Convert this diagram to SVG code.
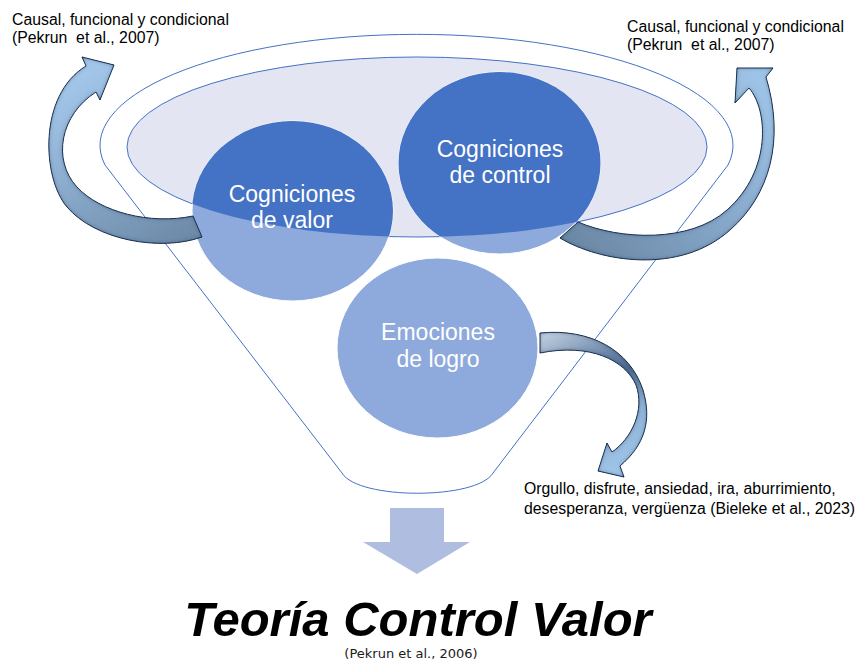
<svg xmlns="http://www.w3.org/2000/svg" width="857" height="660" viewBox="0 0 857 660">
  <style>
    .outline { fill: none; stroke: #4472C4; stroke-width: 1; }
    .node-text { font-family: "Liberation Sans", Arial, sans-serif; font-size: 23px; fill: #FFFFFF; text-anchor: middle; }
    .note { font-family: "Liberation Sans", Arial, sans-serif; font-size: 15.8px; fill: #000000; }
    .title { font-family: "Liberation Sans", Arial, sans-serif; font-size: 49px; font-weight: bold; font-style: italic; fill: #000000; text-anchor: middle; }
    .cite { font-family: "DejaVu Sans", "Liberation Sans", sans-serif; font-size: 13px; fill: #1A1A1A; text-anchor: middle; }
    .curved { stroke: #1F3556; stroke-width: 1; stroke-linejoin: miter; filter: url(#rim); }
  </style>
  <defs>
    <clipPath id="top-ellipse">
      <ellipse cx="417" cy="147" rx="290" ry="90"/>
    </clipPath>
    <filter id="rim" x="-10%" y="-10%" width="120%" height="120%">
      <feGaussianBlur in="SourceAlpha" stdDeviation="2" result="blur"/>
      <feComposite in="SourceAlpha" in2="blur" operator="arithmetic" k2="1" k3="-1" result="edge"/>
      <feFlood flood-color="#1F3150" flood-opacity="0.85"/>
      <feComposite in2="edge" operator="in" result="shade"/>
      <feMerge>
        <feMergeNode in="SourceGraphic"/>
        <feMergeNode in="shade"/>
      </feMerge>
    </filter>
    <linearGradient id="grad-left" gradientUnits="userSpaceOnUse" x1="200" y1="237" x2="90" y2="70">
      <stop offset="0" stop-color="#6C89A6"/>
      <stop offset="0.45" stop-color="#83A3C4"/>
      <stop offset="1" stop-color="#A2C6EA"/>
    </linearGradient>
    <linearGradient id="grad-right" gradientUnits="userSpaceOnUse" x1="565" y1="238" x2="760" y2="80">
      <stop offset="0" stop-color="#6B88A4"/>
      <stop offset="0.5" stop-color="#84A5C7"/>
      <stop offset="1" stop-color="#9DC3E6"/>
    </linearGradient>
    <linearGradient id="grad-bottom" gradientUnits="userSpaceOnUse" x1="540" y1="340" x2="610" y2="470">
      <stop offset="0" stop-color="#B9C9DB"/>
      <stop offset="0.3" stop-color="#6A86A8"/>
      <stop offset="0.45" stop-color="#4C6A8E"/>
      <stop offset="0.7" stop-color="#8DB0D4"/>
      <stop offset="1" stop-color="#9DC3E6"/>
    </linearGradient>
  </defs>

  <!-- funnel body -->
  <g id="funnel">
    <path class="outline" d="M 105,165 A 316.5 111 0 1 1 728,165 L 493,473 C 477,500 358,500 342,473 Z"/>
    <ellipse cx="417" cy="147" rx="290" ry="90" fill="#E3E6F2" stroke="#4472C4" stroke-width="1"/>
  </g>

  <!-- value cognitions -->
  <g id="node-valor">
    <ellipse cx="292.5" cy="211" rx="100.5" ry="90" fill="#8EA9DB" stroke="#FFFFFF" stroke-width="1"/>
    <ellipse cx="292.5" cy="211" rx="100.5" ry="90" fill="#4472C4" clip-path="url(#top-ellipse)"/>
    <text class="node-text" x="292" y="202">Cogniciones</text>
    <text class="node-text" x="292" y="228">de valor</text>
  </g>

  <!-- control cognitions -->
  <g id="node-control">
    <ellipse cx="499.5" cy="163" rx="101" ry="91" fill="#8EA9DB" stroke="#FFFFFF" stroke-width="1"/>
    <ellipse cx="499.5" cy="163" rx="101" ry="91" fill="#4472C4" clip-path="url(#top-ellipse)"/>
    <text class="node-text" x="500" y="157">Cogniciones</text>
    <text class="node-text" x="500" y="183">de control</text>
  </g>

  <!-- achievement emotions -->
  <g id="node-emociones">
    <ellipse cx="437.5" cy="348" rx="100.5" ry="90" fill="#8EA9DB" stroke="#FFFFFF" stroke-width="1"/>
    <text class="node-text" x="438" y="340">Emociones</text>
    <text class="node-text" x="438" y="367">de logro</text>
  </g>

  <!-- connectors -->
  <g id="connectors">
    <path class="curved" fill="url(#grad-left)" d="M 202,237 C 160,252 95,240 67,207 C 42,178 38,95 86,66 L 82,57 L 114,65 L 100,100 L 96,92 C 60,115 52,160 77,187 C 100,212 150,225 193,216 Z"/>
    <path class="curved" fill="url(#grad-right)" d="M 560,238 C 600,262 680,275 730,230 C 770,195 785,140 766,77 L 773,68 L 737,68 L 735,103 L 749,88 C 768,110 772,170 727,210 C 690,243 620,240 578,222 Z"/>
    <path class="curved" fill="url(#grad-bottom)" d="M 540,333 C 590,328 630,350 643,390 C 652,420 645,445 620,466 L 624,477 L 598,471 L 607,443 L 612,452 C 632,438 645,410 636,385 C 625,360 590,343 540,353 Z"/>
    <path id="down-arrow" fill="#AFBDE0" d="M 390,508 L 444,508 L 444,542 L 470,542 L 417,574 L 363,542 L 390,542 Z"/>
  </g>

  <!-- annotations -->
  <g id="label-top-left">
    <text class="note" x="12" y="25">Causal, funcional y condicional</text>
    <text class="note" x="12" y="43" xml:space="preserve">(Pekrun  et al., 2007)</text>
  </g>
  <g id="label-top-right">
    <text class="note" x="627" y="32">Causal, funcional y condicional</text>
    <text class="note" x="627" y="50" xml:space="preserve">(Pekrun  et al., 2007)</text>
  </g>
  <g id="label-emotions">
    <text class="note" x="524" y="494">Orgullo, disfrute, ansiedad, ira, aburrimiento,</text>
    <text class="note" x="524" y="514">desesperanza, vergüenza (Bieleke et al., 2023)</text>
  </g>

  <g id="title">
    <text class="title" x="418" y="635.5">Teoría Control Valor</text>
    <text class="cite" x="411" y="658">(Pekrun et al., 2006)</text>
  </g>
</svg>
